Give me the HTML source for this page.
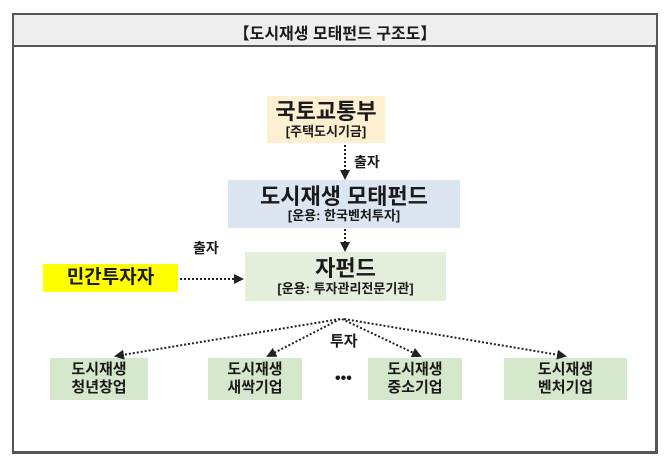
<!DOCTYPE html>
<html><head><meta charset="utf-8"><style>
body{margin:0;width:670px;height:465px;background:#fff;position:relative;font-family:"Liberation Sans","Noto Sans CJK KR",sans-serif;font-weight:bold;color:#1a1a1a;overflow:hidden}
.a{position:absolute;box-sizing:border-box}
.box{position:absolute;display:flex;flex-direction:column;align-items:center;justify-content:center;text-align:center;line-height:1.15}
.big{font-size:22px}.sub{font-size:13px}
.bt{font-size:15px;line-height:1.2}
.lbl{position:absolute;font-size:14px}
</style></head><body>
<div class="a" style="left:12px;top:13px;width:646px;height:441px;border:2px solid #555;border-bottom-width:3px;border-right-width:3px"></div>
<div class="a" style="left:14px;top:15px;width:642px;height:32px;background:#eeeeee;border-bottom:2px solid #555"></div>
<div class="lbl" style="left:0;width:670px;top:20px;text-align:center;font-size:16px">【도시재생 모태펀드 구조도】</div>

<div class="box" style="left:267px;top:96px;width:118px;height:47px;background:#fdf0d2"><div class="big">국토교통부</div><div class="sub">[주택도시기금]</div></div>
<div class="box" style="left:228px;top:180px;width:232px;height:48px;background:#dce5f2"><div class="big">도시재생 모태펀드</div><div class="sub">[운용: 한국벤처투자]</div></div>
<div class="box" style="left:245px;top:252px;width:201px;height:49px;background:#e3eedb"><div class="big">자펀드</div><div class="sub">[운용: 투자관리전문기관]</div></div>
<div class="box" style="left:43px;top:264px;width:135px;height:28px;background:#ffff00;font-size:19px">민간투자자</div>

<div class="box bt" style="left:50px;top:358px;width:98px;height:42px;background:#d6e8cc">도시재생<br>청년창업</div>
<div class="box bt" style="left:208px;top:358px;width:94px;height:42px;background:#d6e8cc">도시재생<br>새싹기업</div>
<div class="box bt" style="left:368px;top:358px;width:94px;height:42px;background:#d6e8cc">도시재생<br>중소기업</div>
<div class="box bt" style="left:504px;top:358px;width:123px;height:42px;background:#d6e8cc">도시재생<br>벤처기업</div>

<div class="lbl" style="left:354px;top:152px">출자</div>
<div class="lbl" style="left:193px;top:238px">출자</div>
<div class="lbl" style="left:330px;top:330px;font-size:15px">투자</div>
<div class="lbl" style="left:335px;top:370px;font-size:16px">•••</div>

<svg class="a" style="left:0;top:0" width="670" height="465">
<defs><marker id="m" markerWidth="5" markerHeight="5" refX="4" refY="2.5" orient="auto" markerUnits="strokeWidth"><path d="M0,0L5,2.5L0,5z" fill="#222"/></marker></defs>
<g stroke="#222" stroke-width="2" stroke-dasharray="2,2" fill="none" marker-end="url(#m)">
<line x1="345" y1="145" x2="345" y2="178"/>
<line x1="345" y1="229" x2="345" y2="250"/>
<line x1="180" y1="279" x2="242" y2="279"/>
<line x1="340" y1="319" x2="116" y2="356"/>
<line x1="340" y1="319" x2="268" y2="356"/>
<line x1="342" y1="319" x2="420" y2="356"/>
<line x1="344" y1="319" x2="565" y2="356"/>
</g></svg>
</body></html>
